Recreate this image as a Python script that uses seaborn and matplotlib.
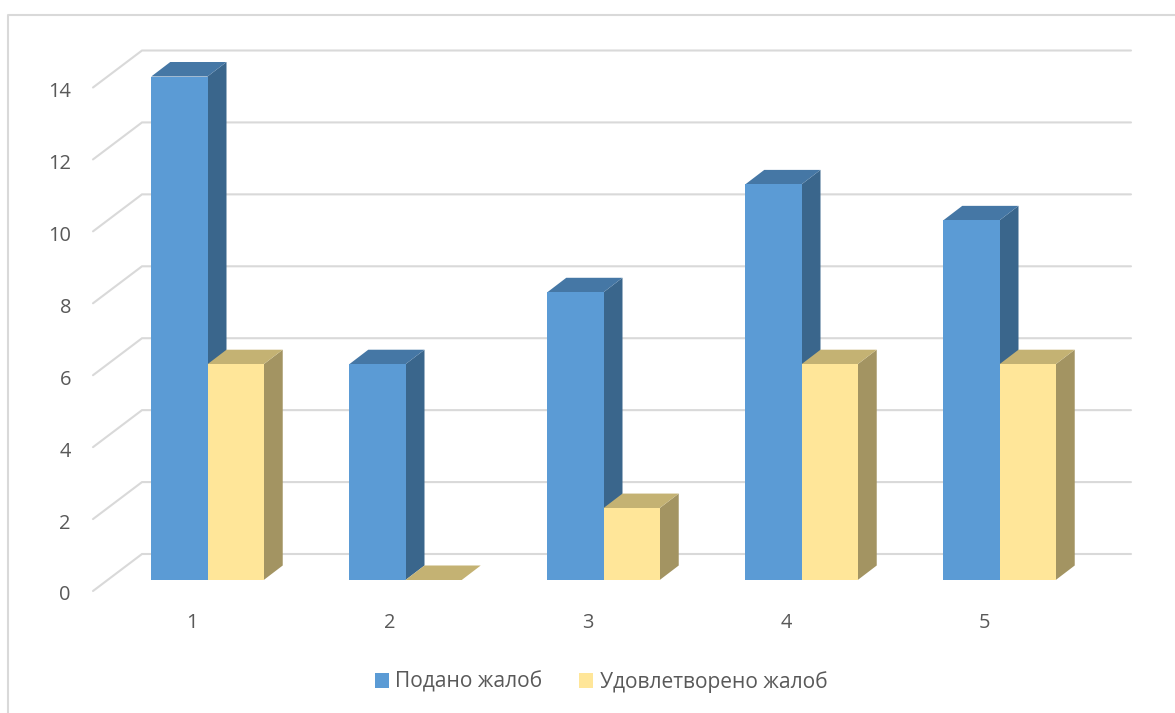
import pandas as pd
import matplotlib
matplotlib.use("Agg")
import matplotlib.pyplot as plt
from matplotlib.lines import Line2D
from matplotlib.patches import Polygon
from matplotlib.transforms import Affine2D
import seaborn as sns

categories = ["1", "2", "3", "4", "5"]
submitted = [14, 6, 8, 11, 10]
satisfied = [6, 0, 2, 6, 6]
series_names = ["Подано жалоб", "Удовлетворено жалоб"]
y_ticks = [0, 2, 4, 6, 8, 10, 12, 14]

W, H = 1175, 713
GREY = "#d9d9d9"
TEXT = "#595959"
front_colors = ["#5b9bd5", "#ffe699"]
side_colors = ["#3a668c", "#a39462"]
top_colors = ["#4577a5", "#c4b273"]

sns.set_style("white")
plt.rcParams["font.family"] = ["Open Sans", "DejaVu Sans"]

df = pd.DataFrame({
    "cat": categories * 2,
    "val": submitted + satisfied,
    "series": [series_names[0]] * 5 + [series_names[1]] * 5,
})

fig = plt.figure(figsize=(W / 100, H / 100), dpi=100)
# axes sit on the plane of the bar fronts
left, right, top, bottom = 108.5, 1098.5, 76.5, 580
ax = fig.add_axes([left / W, 1 - bottom / H, (right - left) / W, (bottom - top) / H])
ax.patch.set_alpha(0)

sns.barplot(data=df, x="cat", y="val", hue="series", palette=front_colors,
            width=0.568, gap=0, saturation=1, ax=ax, linewidth=0, zorder=3)
ax.set_xlim(-0.5, 4.5)
ax.set_ylim(0, 14)
ax.set_xlabel("")
ax.set_ylabel("")
sns.despine(ax=ax, left=True, bottom=True)

px_x = 1 / 198.0
px_y = 14 / (bottom - top)

# back wall gridlines and the diagonals on the side wall
x_front = -0.5 - 15.5 * px_x
x_back = -0.5 + 33.5 * px_x
x_end = -0.5 + (1131 - left) * px_x
for v in y_ticks:
    ax.plot([x_front, x_back, x_end],
            [v - 11 * px_y, v + 26 * px_y, v + 26 * px_y],
            color=GREY, lw=1.5, zorder=1, clip_on=False, solid_joinstyle="miter")

# fake 3d depth of the bars
dx, dy = 19 * px_x, 14.5 * px_y
for s, bars in enumerate(ax.containers):
    for p in bars:
        p.set_zorder(3 + 2 * s)
        x0, x1 = p.get_x(), p.get_x() + p.get_width()
        h = p.get_height()
        side = [(x1, 0), (x1 + dx, dy), (x1 + dx, h + dy), (x1, h)]
        roof = [(x0, h), (x1, h), (x1 + dx, h + dy), (x0 + dx, h + dy)]
        ax.add_patch(Polygon(side, closed=True, fc=side_colors[s], ec="none", zorder=2 + 2 * s, clip_on=False))
        ax.add_patch(Polygon(roof, closed=True, fc=top_colors[s], ec="none", zorder=2 + 2 * s, clip_on=False))

ax.set_yticks(y_ticks)
ax.tick_params(axis="both", length=0, labelsize=14.4, labelcolor=TEXT)
ax.tick_params(axis="y", pad=27)
ax.tick_params(axis="x", pad=23.5)
for lab in ax.get_xticklabels():
    lab.set_transform(lab.get_transform() + Affine2D().translate(-15.5, 0))
for lab in ax.get_yticklabels():
    lab.set_transform(lab.get_transform() + Affine2D().translate(0, -13))

sns.move_legend(ax, "center left", bbox_to_anchor=((375 - left) / (right - left), -(682 - bottom) / (bottom - top)),
                ncol=2, frameon=False, title=None, fontsize=15.1, labelcolor=TEXT,
                handlelength=0.67, handleheight=0.67, handletextpad=0.3, columnspacing=1.75,
                borderpad=0, borderaxespad=0)

# chart border, only top and left are visible in the picture
fig.add_artist(Line2D([7.5 / W, 7.5 / W, 1], [0, 1 - 15 / H, 1 - 15 / H], color=GREY, lw=1.5))

fig.savefig("out.png", dpi=100)
